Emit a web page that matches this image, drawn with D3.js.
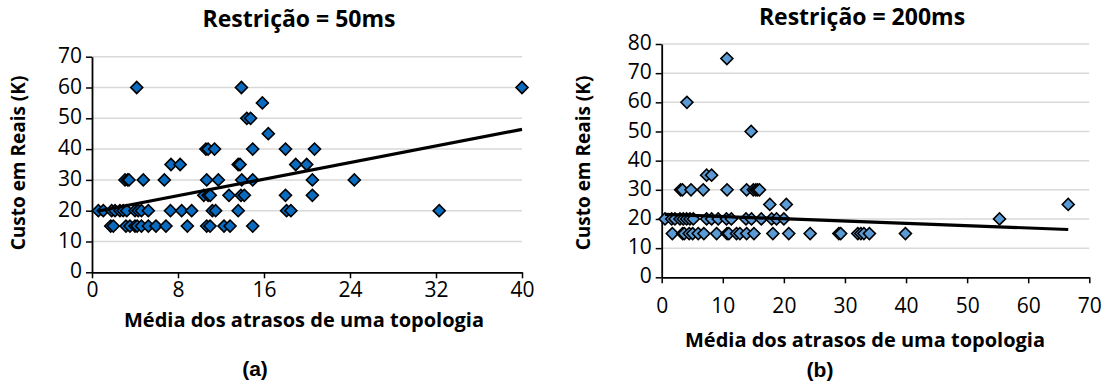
<!DOCTYPE html>
<html><head><meta charset="utf-8">
<script src="https://cdn.jsdelivr.net/npm/d3@7"></script>
<style>
body{margin:0;background:#fff;}
svg{display:block;font-family:"Open Sans",sans-serif;}
</style></head><body>
<svg id="c" width="1103" height="391"></svg>
<script>
// ---- Data: chart (a) Restrição = 50ms ----
const titleA = "Restrição = 50ms";
const xTicksA = [0, 8, 16, 24, 32, 40];
const yTicksA = [0, 10, 20, 30, 40, 50, 60, 70];
const delayA = [
  4.16, 13.9, 40,
  15.85,
  14.4, 14.75,
  16.4,
  10.6, 10.8, 11.4, 14.95, 18.0, 20.7,
  7.35, 8.2, 13.6, 13.77, 18.95, 19.97,
  3.07, 3.32, 3.44, 4.77, 6.73, 10.67, 11.75, 13.93, 14.95, 20.5, 24.4,
  10.4, 10.8, 11.0, 12.74, 13.86, 14.17, 18.0, 20.5,
  0.59, 1.05, 1.83, 2.14, 2.6, 2.9, 3.23, 4.0, 4.3, 4.6, 5.24, 7.3, 8.34, 9.27, 11.2, 11.5, 13.6, 18.1, 18.5, 32.3,
  1.74, 1.98, 3.16, 3.53, 4.0, 4.2, 4.6, 5.24, 5.95, 6.88, 8.87, 10.67, 10.98, 12.28, 12.84, 14.95
];
const costA = [
  60, 60, 60,
  55,
  50, 50,
  45,
  40, 40, 40, 40, 40, 40,
  35, 35, 35, 35, 35, 35,
  30, 30, 30, 30, 30, 30, 30, 30, 30, 30, 30,
  25, 25, 25, 25, 25, 25, 25, 25,
  20, 20, 20, 20, 20, 20, 20, 20, 20, 20, 20, 20, 20, 20, 20, 20, 20, 20, 20, 20,
  15, 15, 15, 15, 15, 15, 15, 15, 15, 15, 15, 15, 15, 15, 15, 15
];
const trendXA = [0.59, 40];
const trendYA = [19.9, 46.4];

// ---- Data: chart (b) Restrição = 200ms ----
const titleB = "Restrição = 200ms";
const xTicksB = [0, 10, 20, 30, 40, 50, 60, 70];
const yTicksB = [0, 10, 20, 30, 40, 50, 60, 70, 80];
const delayB = [
  10.67,
  4.13,
  14.64,
  7.35, 8.17,
  3.1, 3.4, 4.8, 6.8, 10.7, 13.9, 15.0, 15.4, 15.7, 16.0,
  17.7, 20.4, 66.55,
  0.54, 1.63, 2.17, 2.99, 3.53, 4.08, 4.62, 5.17, 7.35, 8.17, 9.25, 10.6, 11.4, 13.8, 14.7, 16.3, 18.0, 18.8, 20.0, 55.3,
  1.74, 3.43, 3.7, 4.5, 5.07, 5.98, 6.9, 8.99, 10.7, 11.0, 12.25, 12.8, 13.9, 15.1, 18.2, 20.8, 24.3, 29.0, 29.3, 32.1, 32.6, 33.1, 34.0, 39.9
];
const costB = [
  75,
  60,
  50,
  35, 35,
  30, 30, 30, 30, 30, 30, 30, 30, 30, 30,
  25, 25, 25,
  20, 20, 20, 20, 20, 20, 20, 20, 20, 20, 20, 20, 20, 20, 20, 20, 20, 20, 20, 20,
  15, 15, 15, 15, 15, 15, 15, 15, 15, 15, 15, 15, 15, 15, 15, 15, 15, 15, 15, 15, 15, 15, 15, 15
];
const trendXB = [0.54, 66.55];
const trendYB = [21.6, 16.4];

const yTitle = "Custo em Reais (K)";
const xTitle = "Média dos atrasos de uma topologia";

const svg = d3.select("#c");

function drawChart(o) {
  const x = d3.scaleLinear().domain(o.xDomain).range([o.left, o.right]);
  const y = d3.scaleLinear().domain(o.yDomain).range([o.bottom, o.top]);
  const g = svg.append("g");

  // gridlines
  g.append("g").selectAll("line").data(o.yTicks.filter(d => d > 0)).join("line")
    .attr("x1", o.left).attr("x2", o.right)
    .attr("y1", d => y(d)).attr("y2", d => y(d))
    .attr("stroke", "#d9d9d9").attr("stroke-width", 1.5);

  // axes
  const xAxis = d3.axisBottom(x).tickValues(o.xTicks).tickSize(6).tickSizeOuter(0);
  const yAxis = d3.axisLeft(y).tickValues(o.yTicks).tickSize(6).tickSizeOuter(0);
  const gx = g.append("g").attr("transform", `translate(0,${o.bottom})`).call(xAxis);
  const gy = g.append("g").attr("transform", `translate(${o.left},0)`).call(yAxis);
  [gx, gy].forEach(a => {
    a.select(".domain").attr("stroke", "#000").attr("stroke-width", 1.8);
    a.selectAll(".tick line").attr("stroke", "#000").attr("stroke-width", 1.5);
    a.selectAll(".tick text").attr("fill", "#000").attr("font-size", 21)
      .attr("font-family", "'Open Sans',sans-serif");
  });
  gx.selectAll(".tick text").attr("dy", null).attr("y", o.xLabelDy).attr("dominant-baseline", "middle");
  gy.selectAll(".tick text").attr("x", -10).attr("dy", null).attr("dominant-baseline", "middle");

  // points
  const pts = o.xs.map((v, i) => [v, o.ys[i]]);
  const sym = d3.symbol().type(d3.symbolSquare).size(72);
  g.append("g").selectAll("path").data(pts).join("path")
    .attr("d", sym)
    .attr("transform", d => `translate(${x(d[0])},${y(d[1])}) rotate(45)`)
    .attr("fill", o.fill).attr("stroke", "#000").attr("stroke-width", 1.6);

  // trendline
  const line = d3.line().x(d => x(d[0])).y(d => y(d[1]));
  g.append("path").datum(o.trendX.map((v, i) => [v, o.trendY[i]]))
    .attr("d", line).attr("fill", "none").attr("stroke", "#000").attr("stroke-width", 3.2);

  // titles
  g.append("text").text(o.title).attr("x", o.titleX).attr("y", o.titleY)
    .attr("text-anchor", "middle").attr("dominant-baseline", "middle")
    .attr("font-weight", "bold").attr("font-size", 23);
  g.append("text").text(xTitle).attr("x", o.xTitleX).attr("y", o.xTitleY)
    .attr("text-anchor", "middle").attr("dominant-baseline", "middle")
    .attr("font-weight", "bold").attr("font-size", 20);
  g.append("text").text(yTitle)
    .attr("transform", `translate(${o.yTitleX},${o.yTitleY}) rotate(-90)`)
    .attr("text-anchor", "middle").attr("dominant-baseline", "middle")
    .attr("font-weight", "bold").attr("font-size", 19);
  g.append("text").text(o.label).attr("x", o.labelX).attr("y", o.labelY)
    .attr("text-anchor", "middle").attr("dominant-baseline", "middle")
    .attr("font-weight", "bold").attr("font-size", 21)
    .attr("font-family", "'Liberation Sans',Arial,sans-serif");
}

drawChart({
  xDomain: [0, 40], yDomain: [0, 70], left: 92, right: 522, top: 56.7, bottom: 272.3,
  xTicks: xTicksA, yTicks: yTicksA, xs: delayA, ys: costA, fill: "#0a6cc0", xLabelDy: 19,
  trendX: trendXA, trendY: trendYA, title: titleA, titleX: 299, titleY: 21,
  xTitleX: 304, xTitleY: 322, yTitleX: 20, yTitleY: 163, label: "(a)", labelX: 255, labelY: 370
});
drawChart({
  xDomain: [0, 70], yDomain: [0, 80], left: 661.7, right: 1089.3, top: 44, bottom: 277.3,
  xTicks: xTicksB, yTicks: yTicksB, xs: delayB, ys: costB, fill: "#5b9bd5", xLabelDy: 30,
  trendX: trendXB, trendY: trendYB, title: titleB, titleX: 862, titleY: 19,
  xTitleX: 865, xTitleY: 342, yTitleX: 585, yTitleY: 163, label: "(b)", labelX: 820, labelY: 371
});
</script>
</body></html>
